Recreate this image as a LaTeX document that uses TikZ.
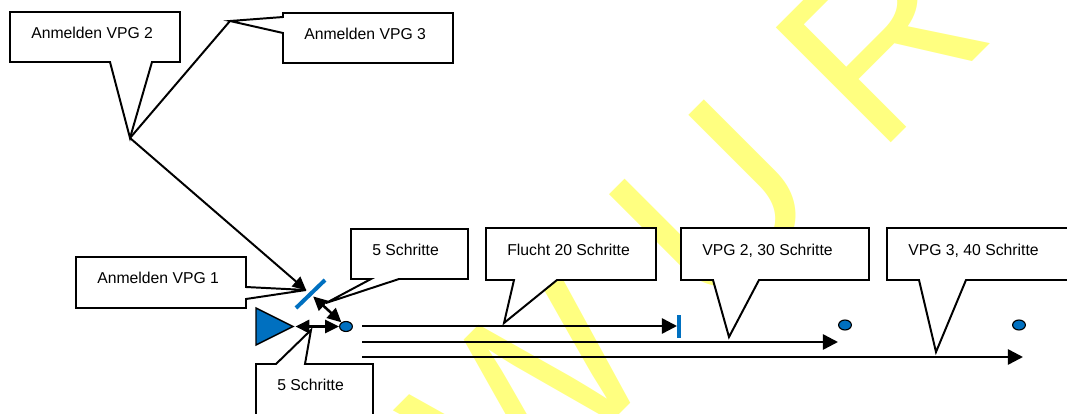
\documentclass[tikz,border=0pt]{standalone}
\usepackage{fontspec}
\setmainfont{Liberation Sans}
\usetikzlibrary{arrows.meta,shapes.geometric}
\definecolor{vblue}{RGB}{0,112,192}
\definecolor{draftyellow}{RGB}{255,255,128}

\begin{document}
\begin{tikzpicture}[x=0.025cm,y=-0.025cm,
    callout/.style={draw,fill=white,line width=1.4pt},
    text node/.style={anchor=base west,inner sep=0pt,font=\fontsize{11.2}{13}\selectfont},
    path line/.style={line width=1.8pt,-{Triangle[length=0.38cm,width=0.38cm]}},
    short step/.style={line width=1.8pt,{Triangle[length=0.35cm,width=0.33cm]}-{Triangle[length=0.35cm,width=0.33cm]}},
    blue dot/.style={ellipse,draw,fill=vblue,line width=0.8pt,minimum width=0.32cm,minimum height=0.25cm,inner sep=0pt},
    blue tick/.style={draw=vblue,line width=0.1cm},
    draft/.style={anchor=base west,inner sep=0pt,rotate=45,text=draftyellow,font=\fontsize{168}{168}\selectfont}]
    \useasboundingbox (0,0) rectangle (1067,414);
    \clip (0,0) rectangle (1067,414);

    % watermark
    \foreach \ch/\px/\py in {E/36/998,N/193/841,T/359/675,W/507/527,U/711/323,R/877/157,F/1043/-9}
        \node[draft] at (\px,\py) {\ch};

    % callouts
    \draw[callout] (10,12) -- (180,12) -- (180,62) -- (152,62) -- (130,138) coordinate (vpg2tip) -- (110,62) -- (10,62) -- cycle;
    \node[text node] (vpg2) at (31,38) {Anmelden VPG 2};
    \draw[callout] (283,13) -- (453,13) -- (453,63) -- (283,63) -- (283,33) -- (230,21) coordinate (vpg3tip) -- (283,17) -- cycle;
    \node[text node] (vpg3) at (304,39) {Anmelden VPG 3};
    \draw[callout] (76,257) -- (246,257) -- (246,287) -- (306,290) -- (246,299) -- (246,308) -- (76,308) -- cycle;
    \node[text node] (vpg1) at (97,283) {Anmelden VPG 1};
    \draw[callout] (351,229) -- (468,229) -- (468,279) -- (399,279) -- (326,303) -- (371,279) -- (351,279) -- cycle;
    \node[text node] (steps a) at (372,255) {5 Schritte};
    \draw[callout] (256,364) -- (276,364) -- (311,330) -- (305,364) -- (373,364) -- (373,420) -- (256,420) -- cycle;
    \node[text node] (steps b) at (277,390) {5 Schritte};
    \draw[callout] (486,228) -- (656,228) -- (656,280) -- (557,280) -- (504,323) -- (514,280) -- (486,280) -- cycle;
    \node[text node] (flight) at (507,255) {Flucht 20 Schritte};
    \draw[callout] (681,228) -- (869,228) -- (869,280) -- (759,280) -- (729,337) -- (713,280) -- (681,280) -- cycle;
    \node[text node] (vpg2 steps) at (702,255) {VPG 2, 30 Schritte};
    \draw[callout] (887,228) -- (1075,228) -- (1075,280) -- (966,280) -- (936,352) -- (919,280) -- (887,280) -- cycle;
    \node[text node] (vpg3 steps) at (908,255) {VPG 3, 40 Schritte};

    % start, gate and goals
    \draw[fill=vblue,line width=1pt] (256,308) -- (293,326.5) -- (256,345) -- cycle;
    \coordinate (start) at (293,326.5);
    \draw[blue tick] (296,308) -- (325,280);
    \coordinate (gate) at (310.5,294);
    \node[blue dot] (dot1) at (346,326.5) {};
    \node[blue dot] (dot2) at (845,325) {};
    \node[blue dot] (dot3) at (1019,325) {};
    \draw[blue tick] (679,315) -- (679,338);
    \coordinate (escape) at (679,326);

    \coordinate (l1) at (362,326);
    \coordinate (l2) at (362,342);
    \coordinate (l3) at (362,357);
    \coordinate (l2e) at (838,342);
    \coordinate (l3e) at (1023,357);

    % connectors
    \draw[line width=1.4pt] (vpg3tip) -- (vpg2tip);
    \draw[line width=1.4pt,-{Triangle[length=0.34cm,width=0.32cm]},shorten >=0.14cm] (vpg2tip) -- (gate);
    \draw[short step,shorten <=0.09cm] (gate) -- (dot1);
    \draw[short step,shorten <=0.06cm] (start) -- (dot1);
    \draw[path line,shorten >=0.05cm] (l1) -- (escape);
    \draw[path line] (l2) -- (l2e);
    \draw[path line] (l3) -- (l3e);
\end{tikzpicture}
\end{document}
